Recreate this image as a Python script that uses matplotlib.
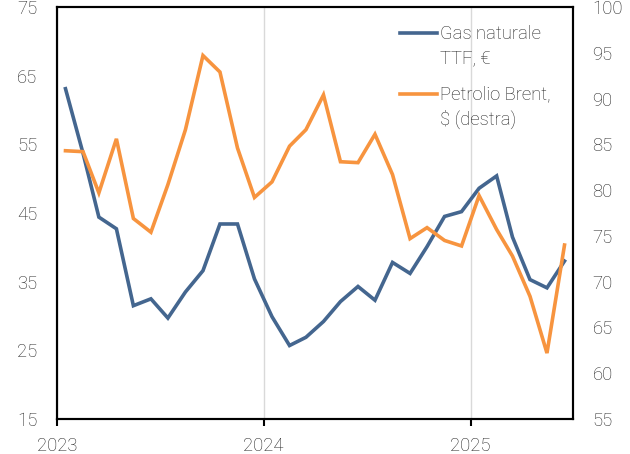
import matplotlib
matplotlib.use("Agg")
import matplotlib.pyplot as plt
import matplotlib.dates as mdates
from matplotlib.legend_handler import HandlerLine2D
from matplotlib.lines import Line2D
import numpy as np
import pandas as pd

plt.rcParams['font.family'] = ['Roboto', 'DejaVu Sans']
plt.rcParams['font.weight'] = 'light'

# monthly averages, Jan 2023 - Jun 2025
months = pd.date_range("2023-01-01", periods=30, freq="MS") + pd.Timedelta(days=15)
gas_ttf = [63.1, 53.7, 44.4, 42.7, 31.5, 32.5, 29.7, 33.5, 36.6, 43.4,
           43.4, 35.4, 29.9, 25.7, 26.9, 29.2, 32.1, 34.3, 32.3, 37.8,
           36.2, 40.1, 44.5, 45.2, 48.6, 50.4, 41.5, 35.3, 34.1, 38.0]
brent = [84.3, 84.2, 79.7, 85.6, 76.9, 75.4, 80.6, 86.6, 94.7, 92.9,
         84.6, 79.2, 80.9, 84.8, 86.6, 90.4, 83.1, 83.0, 86.1, 81.7,
         74.7, 75.9, 74.5, 73.9, 79.4, 75.7, 72.8, 68.4, 62.2, 74.0]
labels = ["Gas naturale\nTTF, €", "Petrolio Brent,\n$ (destra)"]

blue = "#44668F"
orange = "#F7943F"
txt = "#222222"


class FirstLineHandler(HandlerLine2D):
    # put the legend line next to the first text line
    def create_artists(self, legend, orig_handle, xdescent, ydescent,
                       width, height, fontsize, trans):
        arts = super().create_artists(legend, orig_handle, xdescent, ydescent,
                                      width, height, fontsize, trans)
        for a in arts:
            if isinstance(a, Line2D):
                a.set_ydata(np.asarray(a.get_ydata()) + fontsize * 0.75)
        return arts


fig = plt.figure(figsize=(6.3, 4.54), dpi=100)
ax1 = fig.add_axes([57/630, 1-419/454, 516/630, 412/454])
ax2 = ax1.twinx()

ln1, = ax1.plot(months, gas_ttf, color=blue, lw=2.6, solid_joinstyle="miter")
ln2, = ax2.plot(months, brent, color=orange, lw=2.6, solid_joinstyle="miter")

ax1.set_xlim(pd.Timestamp("2023-01-01"), pd.Timestamp("2025-07-01"))
ax1.set_ylim(15, 75)
ax1.set_yticks(np.arange(15, 76, 10))
ax2.set_ylim(55, 100)
ax2.set_yticks(np.arange(55, 101, 5))

ax1.xaxis.set_major_locator(mdates.YearLocator())
ax1.xaxis.set_major_formatter(mdates.DateFormatter("%Y"))
ax1.grid(axis="x", color="#d9d9d9", lw=1)
ax1.set_axisbelow(True)

ax1.tick_params(axis="x", length=5, width=1.5, color="black", pad=8, labelsize=13.3, labelcolor=txt)
ax1.tick_params(axis="y", length=0, pad=14, labelsize=13.3, labelcolor=txt)
ax2.tick_params(axis="y", length=0, pad=14, labelsize=13.3, labelcolor=txt)

for a in (ax1, ax2):
    for s in a.spines.values():
        s.set_linewidth(1.5)
        s.set_color("black")

leg = ax2.legend([ln1, ln2], labels, loc="upper left", bbox_to_anchor=(0.65, 0.975),
                 frameon=False, fontsize=13.3, handlelength=2.0, handletextpad=0.2,
                 labelspacing=1.0, borderaxespad=0,
                 handler_map={Line2D: FirstLineHandler()})
for t in leg.get_texts():
    t.set_color(txt)
    t.set_linespacing(1.45)

fig.savefig("out.png", dpi=100)
